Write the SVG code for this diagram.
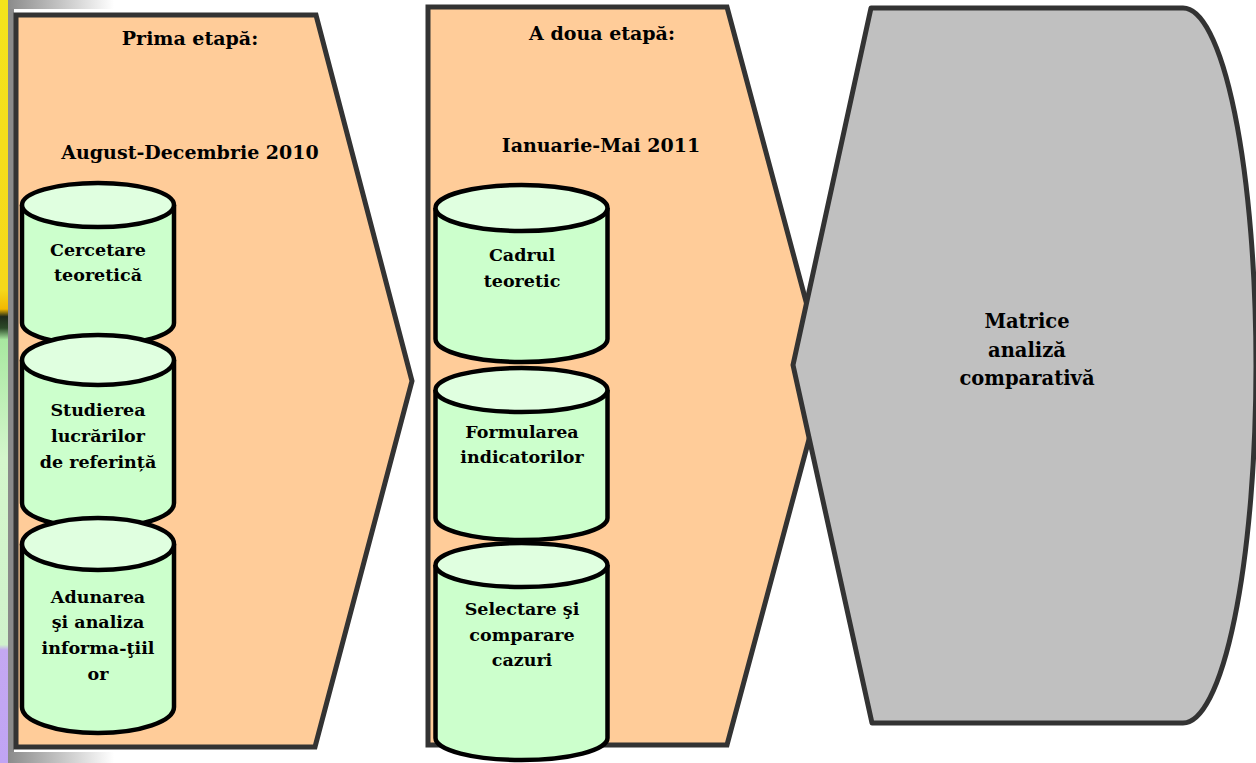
<svg xmlns="http://www.w3.org/2000/svg" width="1256" height="763" viewBox="0 0 1256 763">
<defs>
<linearGradient id="hbar" x1="0" y1="0" x2="1" y2="0">
<stop offset="0" stop-color="#8c8c8c"/>
<stop offset="1" stop-color="#ffffff"/>
</linearGradient>
<linearGradient id="strip" x1="0" y1="0" x2="0" y2="1">
<stop offset="0" stop-color="#f4e41c"/>
<stop offset="0.38" stop-color="#f6d81a"/>
<stop offset="0.405" stop-color="#f2b800"/>
<stop offset="0.415" stop-color="#1e2a1a"/>
<stop offset="0.43" stop-color="#2c4a28"/>
<stop offset="0.445" stop-color="#a8e8a0"/>
<stop offset="0.6" stop-color="#d4f6cc"/>
<stop offset="0.845" stop-color="#d0f2cc"/>
<stop offset="0.852" stop-color="#c4a8f2"/>
<stop offset="1" stop-color="#c0a4f4"/>
</linearGradient>
<style>
.chev{fill:#FFCC99;stroke:#333333;stroke-width:5;stroke-linejoin:miter}
.disp{fill:#C0C0C0;stroke:#333333;stroke-width:5;stroke-linejoin:round}
.body{fill:#CCFFCC;stroke:#000;stroke-width:4.5}
.top{fill:#E0FFE0;stroke:#000;stroke-width:4.5}
text{font-family:"DejaVu Serif","Liberation Serif",serif;font-weight:bold;fill:#000;text-anchor:middle}
.t{font-size:19px}
.c{font-size:17.5px}
.g{font-size:19.5px}
</style>
</defs>
<g id="background">
<rect x="0" y="0" width="1256" height="763" fill="#ffffff"/>
<rect x="0" y="0" width="9" height="763" fill="url(#strip)"/>
<rect x="8" y="0" width="6" height="763" fill="#8a8a8a"/>
<rect x="9" y="0" width="105" height="9" fill="url(#hbar)"/>
<rect x="9" y="752" width="105" height="11" fill="url(#hbar)"/>
</g>
<g id="connectors"></g>
<g id="stage1">
<path class="chev" d="M16,15 L316,15 L412,381 L315,747 L16,747 Z"/>
<text class="t" x="190" y="45">Prima etapă:</text>
<text class="t" x="190" y="159">August-Decembrie 2010</text>
</g>
<g id="cyl-cercetare">
<path class="body" d="M22,205 L22,323 A76,22 0 0 0 174,323 L174,205"/>
<ellipse class="top" cx="98" cy="205" rx="76" ry="22"/>
<text class="c" x="98" y="256">Cercetare</text>
<text class="c" x="98" y="281">teoretică</text>
</g>
<g id="cyl-studierea">
<path class="body" d="M22,360 L22,503 A76,25 0 0 0 174,503 L174,360"/>
<ellipse class="top" cx="98" cy="360" rx="76" ry="25"/>
<text class="c" x="98" y="416">Studierea</text>
<text class="c" x="98" y="442">lucrărilor</text>
<text class="c" x="98" y="468">de referință</text>
</g>
<g id="cyl-adunarea">
<path class="body" d="M22,544 L22,707 A76,26 0 0 0 174,707 L174,544"/>
<ellipse class="top" cx="98" cy="544" rx="76" ry="26"/>
<text class="c" x="98" y="603">Adunarea</text>
<text class="c" x="98" y="628">şi analiza</text>
<text class="c" x="98" y="654">informa-ţiil</text>
<text class="c" x="98" y="680">or</text>
</g>
<g id="stage2">
<path class="chev" d="M428,7 L727,7 L826,376 L727,745 L428,745 Z"/>
<text class="t" x="602" y="40">A doua etapă:</text>
<text class="t" x="601" y="152">Ianuarie-Mai 2011</text>
</g>
<g id="cyl-cadrul">
<path class="body" d="M435.5,208 L435.5,339 A86,23 0 0 0 607.5,339 L607.5,208"/>
<ellipse class="top" cx="521.5" cy="208" rx="86" ry="23"/>
<text class="c" x="522" y="261">Cadrul</text>
<text class="c" x="522" y="287">teoretic</text>
</g>
<g id="cyl-formularea">
<path class="body" d="M435.5,390 L435.5,518 A86,22 0 0 0 607.5,518 L607.5,390"/>
<ellipse class="top" cx="521.5" cy="390" rx="86" ry="22"/>
<text class="c" x="522" y="438">Formularea</text>
<text class="c" x="522" y="463">indicatorilor</text>
</g>
<g id="cyl-selectare">
<path class="body" d="M435.5,565 L435.5,738 A86,22 0 0 0 607.5,738 L607.5,565"/>
<ellipse class="top" cx="521.5" cy="565" rx="86" ry="22"/>
<text class="c" x="522" y="615">Selectare şi</text>
<text class="c" x="522" y="641">comparare</text>
<text class="c" x="522" y="666">cazuri</text>
</g>
<g id="matrice">
<path class="disp" d="M871,8 L1183,8 A73,357.5 0 0 1 1183,723 L872,723 L793,365 Z"/>
<text class="g" x="1027" y="328">Matrice</text>
<text class="g" x="1027" y="357">analiză</text>
<text class="g" x="1027" y="385">comparativă</text>
</g>
</svg>
